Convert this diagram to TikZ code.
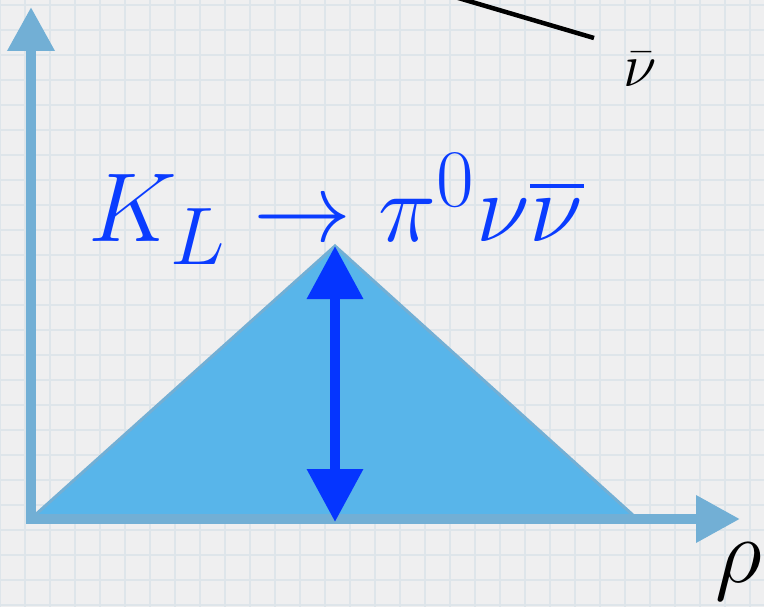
\documentclass[tikz,border=0pt]{standalone}
\usepackage{amsmath}
\usepackage{graphicx}
\usetikzlibrary{arrows.meta,positioning}

\definecolor{paper}{HTML}{EFEFF0}
\definecolor{gridline}{HTML}{DEE5EA}
\definecolor{axisblue}{HTML}{72AFD5}
\definecolor{trianglefill}{HTML}{58B5EA}
\definecolor{arrowblue}{HTML}{0535FF}
\definecolor{labelblue}{HTML}{0A3CFF}

\newcommand{\bigmath}[2]{\scalebox{#1}{\Huge$#2$}}

\begin{document}
\begin{tikzpicture}[
    x=1pt, y=-1pt,
    gridrule/.style={draw=gridline, line width=1.6pt},
    axis/.style={draw=axisblue, line width=10pt, -{Triangle[length=44pt,width=45pt]}},
    area/.style={fill=trianglefill, draw=axisblue, line width=3pt, line join=miter},
    extent/.style={draw=arrowblue, line width=10pt,
        {Triangle[length=53pt,width=54pt]}-{Triangle[length=53pt,width=54pt]}},
    biglabel/.style={inner sep=0pt, anchor=base}
]

% paper and grid
\useasboundingbox (0,0) rectangle (764,607);
\clip (0,0) rectangle (764,607);
\fill[paper] (0,0) rectangle (764,607);
\foreach \gx in {0,25,...,750} \draw[gridrule] (\gx,0) -- (\gx,607);
\foreach \gy in {5,30,...,605} \draw[gridrule] (0,\gy) -- (764,\gy);

\coordinate (origin) at (31,519);
\coordinate (ytip) at (31,7);
\coordinate (xtip) at (740,519);
\coordinate (left) at (34,516);
\coordinate (apex) at (335,246);
\coordinate (right) at (634,516);
\coordinate (foot) at (335,522);

% triangle
\draw[area] (left) -- (apex) -- (right) -- cycle;

% axes
\draw[axis] (origin) -- (ytip);
\draw[axis] ([xshift=-5pt]origin) -- (xtip);

% height of the triangle
\draw[extent] (foot) -- (apex);

% labels
\node[biglabel, text=labelblue] (decay) at (336,242) {\bigmath{3.94}{K_L\to\pi^0\nu\overline{\nu}}};
\node[biglabel] (rho) at (739,582) {\bigmath{3.7}{\rho}};

% line at the top
\coordinate (lineend) at (594,38);
\coordinate (linestart) at (455,-3);
\draw[line width=4.5pt] (linestart) -- (lineend);
\node[biglabel] (nubar) at (640,87) {\bigmath{2.45}{\bar\nu}};

\end{tikzpicture}
\end{document}
